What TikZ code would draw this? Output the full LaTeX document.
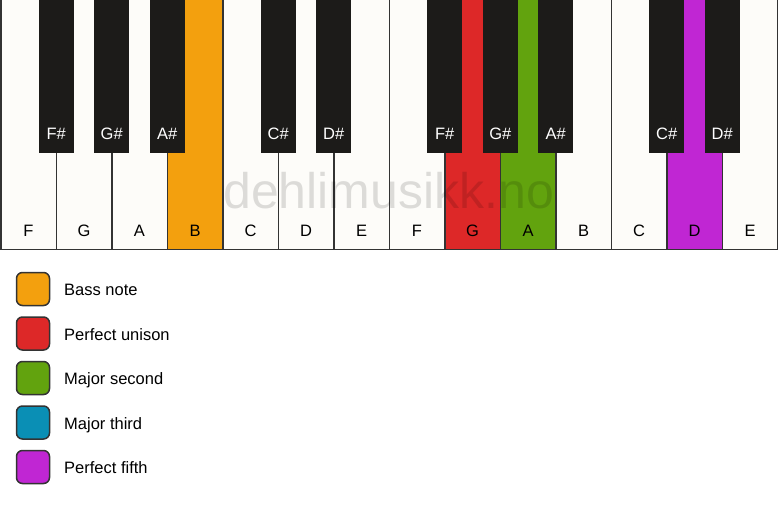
\documentclass[tikz,border=0pt]{standalone}
\usepackage{fontspec}
\setmainfont{Liberation Sans}
\definecolor{keywhite}{HTML}{FDFCF9}
\definecolor{keyblack}{HTML}{1C1B19}
\definecolor{keyline}{HTML}{333333}
\definecolor{cbass}{HTML}{F3A00E}
\definecolor{cunison}{HTML}{DD2828}
\definecolor{csecond}{HTML}{62A30E}
\definecolor{cthird}{HTML}{0A8FB5}
\definecolor{cfifth}{HTML}{C026D3}
\tikzset{
  whitekey/.style={draw=keyline, line width=1.5pt, fill=keywhite, minimum width=55.5pt, minimum height=250pt, inner sep=0pt, outer sep=0pt},
  blackkey/.style={fill=keyblack, minimum width=35pt, minimum height=153pt, inner sep=0pt, outer sep=0pt},
  wlabel/.style={anchor=base, inner sep=0pt, font=\fontsize{16.5}{19}\selectfont, text=black},
  blabel/.style={anchor=base, inner sep=0pt, font=\fontsize{16.5}{19}\selectfont, text=white},
  legbox/.style={draw=keyline, line width=1.5pt, rounded corners=6pt, minimum width=33pt, minimum height=33pt, inner sep=0pt},
  legtext/.style={anchor=base west, inner sep=0pt, font=\fontsize{16.5}{19}\selectfont},
  watermark/.style={anchor=base west, inner sep=0pt, font=\fontsize{50}{60}\selectfont, text=black, opacity=0.13}
}
\begin{document}
\begin{tikzpicture}[x=1pt,y=-1pt]
\useasboundingbox[fill=white] (0,0) rectangle (778,506);
% white keys
\foreach \i/\n/\c in {0/F/keywhite,1/G/keywhite,2/A/keywhite,3/B/cbass,4/C/keywhite,5/D/keywhite,6/E/keywhite,7/F/keywhite,8/G/cunison,9/A/csecond,10/B/keywhite,11/C/keywhite,12/D/cfifth,13/E/keywhite}{
  \node[whitekey, fill=\c] (w\i) at ({0.75+55.5*\i+27.75},124.5) {};
  \node[wlabel] (wl\i) at ({0.75+55.5*\i+27.75},236) {\n};
}
% black keys
\foreach \b/\n in {1/F\#,2/G\#,3/A\#,5/C\#,6/D\#,8/F\#,9/G\#,10/A\#,12/C\#,13/D\#}{
  \node[blackkey] (b\b) at ({0.75+55.5*\b},76.5) {};
  \node[blabel] (bl\b) at ({0.75+55.5*\b},139) {\n};
}
% watermark
\node[watermark] (wm) at (223,208) {dehlimusikk.no};
% legend
\foreach \k/\c/\t in {0/cbass/Bass note,1/cunison/Perfect unison,2/csecond/Major second,3/cthird/Major third,4/cfifth/Perfect fifth}{
  \node[legbox, fill=\c] (lb\k) at (33,{289+44.5*\k}) {};
  \node[legtext] (lt\k) at (64,{295.5+44.5*\k}) {\t};
}
\end{tikzpicture}
\end{document}
